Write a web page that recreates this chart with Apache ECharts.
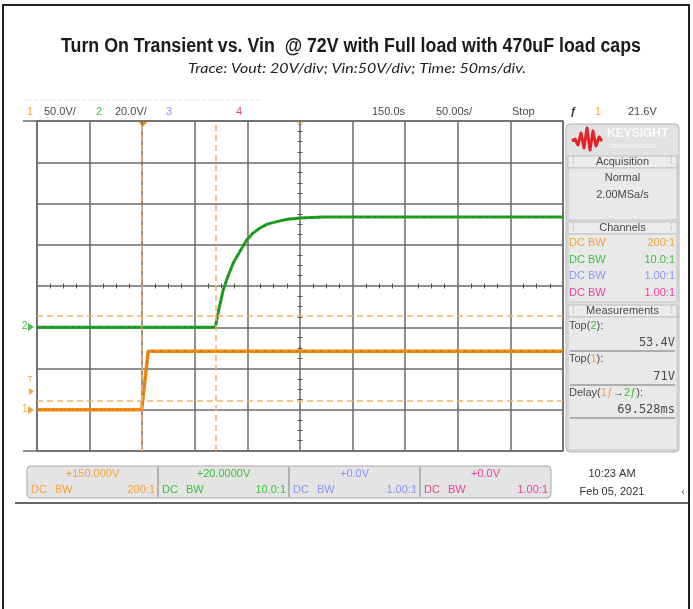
<!DOCTYPE html>
<html>
<head>
<meta charset="utf-8">
<script src="https://cdn.jsdelivr.net/npm/echarts@6/dist/echarts.min.js"></script>
<style>
	html, body { margin: 0; padding: 0; background: #fff; }
	#chart { width: 693px; height: 609px; }
</style>
</head>
<body>
<div id="chart"></div>
<script>
	// time in ms (trigger at 0), volts per channel
	const vinTime = [-100, -0.5, 5.7, 400];
	const vinVolts = [0, 0, 71, 71];
	const voutTime = [-100, 69.5, 73, 77, 81, 86.6, 92, 99.3, 105, 112, 119, 128, 138, 150, 172, 400];
	const voutVolts = [0, 0, 9, 18, 24, 31.2, 36, 42.3, 45.5, 48.1, 50, 51.2, 52.4, 53, 53.5, 53.4];
	const cursorTimes = [0, 69.528];
	const vinThreshold = 11.5;
	const voutThreshold = 5.6;

	const chColors = ["#f5a33a", "#3fbf3f", "#8a96f0", "#ee3f9a"];
	const chScale = ["50.0V/", "20.0V/"];
	const chOffset = ["+150.000V", "+20.0000V", "+0.0V", "+0.0V"];
	const chProbe = ["200:1", "10.0:1", "1.00:1", "1.00:1"];
	const measValues = ["53.4V", "71V", "69.528ms"];

	const titleText = "Turn On Transient vs. Vin  @ 72V with Full load with 470uF load caps";
	const subText = "Trace: Vout: 20V/div; Vin:50V/div; Time: 50ms/div.";

	const vinData = vinTime.map((t, i) => [t, vinVolts[i]]);
	const voutData = voutTime.map((t, i) => [t, voutVolts[i]]);

	const gridColor = "#6a6a6a";
	const txt = "#4a4a4a";
	const sans = "'Liberation Sans', Arial, sans-serif";
	const mono = "'DejaVu Sans Mono', monospace";

	// squeeze a string to a target width (the original uses a narrow font)
	const measure = document.createElement("canvas").getContext("2d");
	const fitScale = (s, font, width) => {
		measure.font = font;
		return width / measure.measureText(s).width;
	};

	const text = (x, y, s, opts = {}) => ({
		type: "text",
		silent: true,
		style: Object.assign({
			x, y, text: s,
			fill: txt,
			font: `11px ${sans}`,
			textAlign: "left",
			textVerticalAlign: "middle"
		}, opts)
	});
	const rect = (x, y, w, h, fill, stroke, r = 0) => ({
		type: "rect",
		silent: true,
		shape: { x, y, width: w, height: h, r },
		style: { fill, stroke, lineWidth: 1 }
	});
	const line = (x1, y1, x2, y2, stroke, lineWidth = 1, lineDash = null) => ({
		type: "line",
		silent: true,
		shape: { x1, y1, x2, y2 },
		style: { stroke, lineWidth, lineDash }
	});

	const graphics = [];
	// outer frame
	graphics.push({
		type: "rect", silent: true,
		shape: { x: 3, y: 5, width: 686, height: 612 },
		style: { fill: null, stroke: "#222", lineWidth: 2 }
	});
	graphics.push(line(15, 503, 689, 503, "#333", 1.5));

	// title + subtitle
	const titleFont = `bold 20px ${sans}`;
	graphics.push({
		type: "text", silent: true,
		x: 351, y: 46,
		scaleX: fitScale(titleText, titleFont, 580),
		style: { text: titleText, font: titleFont, fill: "#1a1a1a", textAlign: "center", textVerticalAlign: "middle" }
	});
	const subFont = "italic 14px Lato, 'Open Sans', sans-serif";
	graphics.push({
		type: "text", silent: true,
		x: 357, y: 68,
		scaleX: fitScale(subText, subFont, 338),
		style: { text: subText, font: subFont, fill: "#222", textAlign: "center", textVerticalAlign: "middle" }
	});

	// header row
	graphics.push(line(25, 100, 262, 100, "#c8c8c8", 1, [1, 2]));
	graphics.push(text(27, 112, "1", { fill: chColors[0] }));
	graphics.push(text(44, 112, chScale[0]));
	graphics.push(text(96, 112, "2", { fill: chColors[1] }));
	graphics.push(text(115, 112, chScale[1]));
	graphics.push(text(166, 112, "3", { fill: chColors[2] }));
	graphics.push(text(236, 112, "4", { fill: chColors[3] }));
	graphics.push(text(372, 112, "150.0s"));
	graphics.push(text(436, 112, "50.00s/"));
	graphics.push(text(512, 112, "Stop"));
	graphics.push(text(570, 112, "ƒ", { font: `italic bold 11px ${sans}`, fill: "#333" }));
	graphics.push(text(595, 112, "1", { fill: chColors[0] }));
	graphics.push(text(628, 112, "21.6V"));

	// grid edge stubs on the left
	graphics.push(line(23, 121, 37, 121, gridColor, 1.5));
	graphics.push(line(23, 451, 37, 451, gridColor, 1.5));

	// markers on the screen
	graphics.push({
		type: "polygon", silent: true,
		shape: { points: [[138, 121], [148, 121], [143, 127]] },
		style: { fill: "#f08c1a" }
	});
	graphics.push({
		type: "polygon", silent: true,
		shape: { points: [[296, 121], [304, 121], [300, 126]] },
		style: { fill: "#fff", stroke: "#f0a040", lineWidth: 1 }
	});
	graphics.push(text(22, 326, "2", { fill: chColors[1], font: `10px ${sans}` }));
	graphics.push({
		type: "polygon", silent: true,
		shape: { points: [[28, 323], [34, 327], [28, 331]] },
		style: { fill: chColors[1] }
	});
	graphics.push(text(22, 409, "1", { fill: chColors[0], font: `10px ${sans}` }));
	graphics.push({
		type: "polygon", silent: true,
		shape: { points: [[28, 406], [34, 410], [28, 414]] },
		style: { fill: chColors[0] }
	});
	graphics.push(text(30, 380, "T", { fill: chColors[0], font: `9px ${sans}`, textAlign: "center" }));
	graphics.push({
		type: "polygon", silent: true,
		shape: { points: [[29, 388], [34, 391.5], [29, 395]] },
		style: { fill: chColors[0] }
	});

	// right side panel
	const px = 566, pw = 113;
	graphics.push(rect(px, 124, pw, 328, "#e2e2e2", "#b4b4b4", 4));
	graphics.push({
		type: "polyline", silent: true,
		shape: { points: [[572, 141], [575, 139], [578, 145], [581, 133], [584, 148], [587, 128], [590, 150], [593, 131], [596, 146], [599, 137], [602, 141]] },
		style: { stroke: "#e3222b", lineWidth: 3, fill: null, lineJoin: "round" }
	});
	graphics.push(text(607, 134, "KEYSIGHT", { fill: "#fbfbfb", font: `bold 12px ${sans}` }));
	graphics.push(text(609, 146, "TECHNOLOGIES", { fill: "#fbfbfb", font: `6px ${sans}` }));

	const sectionHead = (y, label) => {
		graphics.push(rect(px + 2, y, pw - 4, 12, "#ececec", "#bdbdbd"));
		graphics.push(text(px + 6, y + 6, "⁞", { fill: "#aaa", font: `9px ${sans}` }));
		graphics.push(text(px + pw - 9, y + 6, "⁞", { fill: "#aaa", font: `9px ${sans}` }));
		graphics.push(text(px + pw / 2, y + 6, label, { textAlign: "center", font: `11px ${sans}` }));
	};
	sectionHead(156, "Acquisition");
	graphics.push(rect(px + 2, 168, pw - 4, 52, "#e9e9e9", "#c4c4c4"));
	graphics.push(text(px + pw / 2, 178, "Normal", { textAlign: "center" }));
	graphics.push(text(px + pw / 2, 195, "2.00MSa/s", { textAlign: "center" }));

	sectionHead(222, "Channels");
	graphics.push(rect(px + 2, 234, pw - 4, 68, "#e9e9e9", "#c4c4c4"));
	chProbe.forEach((p, i) => {
		const y = 243 + i * 16.7;
		graphics.push(text(px + 3, y, "DC BW", { fill: chColors[i] }));
		graphics.push(text(px + pw - 4, y, p, { fill: chColors[i], textAlign: "right" }));
	});

	sectionHead(305, "Measurements");
	graphics.push(rect(px + 2, 317, pw - 4, 133, "#e9e9e9", "#c4c4c4"));
	graphics.push(text(px + 3, 326, "{a|Top(}{g|2}{a|):}", {
		rich: { a: { fill: txt, font: `11px ${sans}` }, g: { fill: chColors[1], font: `11px ${sans}` } }
	}));
	graphics.push(text(px + pw - 4, 343, measValues[0], { textAlign: "right", font: `12px ${mono}` }));
	graphics.push(line(px + 4, 351, px + pw - 4, 351, "#9a9a9a", 1.5));
	graphics.push(text(px + 3, 359, "{a|Top(}{o|1}{a|):}", {
		rich: { a: { fill: txt, font: `11px ${sans}` }, o: { fill: chColors[0], font: `11px ${sans}` } }
	}));
	graphics.push(text(px + pw - 4, 377, measValues[1], { textAlign: "right", font: `12px ${mono}` }));
	graphics.push(line(px + 4, 385, px + pw - 4, 385, "#9a9a9a", 1.5));
	graphics.push(text(px + 3, 393, "{a|Delay(}{o|1ƒ}{a|→}{g|2ƒ}{a|):}", {
		rich: {
			a: { fill: txt, font: `11px ${sans}` },
			o: { fill: chColors[0], font: `11px ${sans}` },
			g: { fill: chColors[1], font: `11px ${sans}` }
		}
	}));
	graphics.push(text(px + pw - 4, 410, measValues[2], { textAlign: "right", font: `12px ${mono}` }));
	graphics.push(line(px + 4, 418, px + pw - 4, 418, "#9a9a9a", 1.5));

	// bottom channel bar
	graphics.push(rect(27, 466, 524, 32, "#e4e4e4", "#a8a8a8", 4));
	const cellW = 131;
	chOffset.forEach((o, i) => {
		const x0 = 27 + i * cellW;
		if (i > 0) graphics.push(line(x0, 467, x0, 497, "#a0a0a0", 1.5));
		graphics.push(text(x0 + cellW / 2, 474, o, { fill: chColors[i], textAlign: "center" }));
		graphics.push(text(x0 + 4, 490, "DC", { fill: chColors[i] }));
		graphics.push(text(x0 + 28, 490, "BW", { fill: chColors[i] }));
		graphics.push(text(x0 + cellW - 3, 490, chProbe[i], { fill: chColors[i], textAlign: "right" }));
	});
	graphics.push(text(612, 474, "10:23 AM", { textAlign: "center", fill: "#333" }));
	graphics.push(text(612, 492, "Feb 05, 2021", { textAlign: "center", fill: "#333" }));
	graphics.push(text(683, 492, "‹", { fill: "#555", textAlign: "center" }));

	const chart = echarts.init(document.getElementById("chart"), null, { renderer: "canvas" });

	const tickAxis = (extra) => Object.assign({
		gridIndex: 0,
		type: "value",
		axisLine: { show: false },
		axisTick: { show: false },
		axisLabel: { show: false },
		splitLine: { show: false },
		minorTick: { show: true, splitNumber: 4, length: 2.5, lineStyle: { color: "#555", width: 1 } }
	}, extra);

	const option = {
		animation: false,
		backgroundColor: "#fff",
		grid: {
			left: 37,
			top: 121,
			width: 526,
			height: 330,
			show: true,
			backgroundColor: "#fff",
			borderColor: gridColor,
			borderWidth: 1.5
		},
		xAxis: [
			{
				type: "value",
				min: -100,
				max: 400,
				interval: 50,
				axisLine: { show: false },
				axisTick: { show: false },
				axisLabel: { show: false },
				splitLine: { show: true, lineStyle: { color: gridColor, width: 1.5 } }
			},
			tickAxis({ min: -100, max: 400, interval: 50, position: "bottom", offset: -165 }),
			tickAxis({ min: -100, max: 400, interval: 50, position: "top", offset: -165 })
		],
		yAxis: [
			{
				type: "value",
				min: -50,
				max: 350,
				interval: 50,
				axisLine: { show: false },
				axisTick: { show: false },
				axisLabel: { show: false },
				splitLine: { show: true, lineStyle: { color: gridColor, width: 1.5 } }
			},
			{
				type: "value",
				min: -60,
				max: 100,
				interval: 20,
				position: "right",
				axisLine: { show: false },
				axisTick: { show: false },
				axisLabel: { show: false },
				splitLine: { show: false }
			},
			tickAxis({ min: -4, max: 4, interval: 1, position: "left", offset: -263 }),
			tickAxis({ min: -4, max: 4, interval: 1, position: "right", offset: -263 })
		],
		series: [
			{
				name: "Vin",
				type: "line",
				xAxisIndex: 0,
				yAxisIndex: 0,
				data: vinData,
				showSymbol: false,
				lineStyle: { color: "#ec8a12", width: 3.5 },
				z: 3,
				markLine: {
					silent: true,
					symbol: "none",
					label: { show: false },
					lineStyle: { color: "#f7b26a", type: [6, 4], width: 1.5 },
					data: [
						...cursorTimes.map(t => ({ xAxis: t })),
						{ yAxis: vinThreshold }
					]
				}
			},
			{
				name: "Vout",
				type: "line",
				xAxisIndex: 0,
				yAxisIndex: 1,
				data: voutData,
				showSymbol: false,
				lineStyle: { color: "#1f9f1f", width: 3 },
				z: 4,
				markLine: {
					silent: true,
					symbol: "none",
					label: { show: false },
					lineStyle: { color: "#f7b26a", type: [6, 4], width: 1.5 },
					data: [{ yAxis: voutThreshold }]
				}
			},
			{
				name: "Vin specks",
				type: "line",
				yAxisIndex: 0,
				data: vinData,
				showSymbol: false,
				lineStyle: { color: "#3a2a10", width: 1.2, type: [1, 7], opacity: 0.55 },
				z: 5
			},
			{
				name: "Vout specks",
				type: "line",
				yAxisIndex: 1,
				data: voutData,
				showSymbol: false,
				lineStyle: { color: "#0b3a0b", width: 1.2, type: [1, 6], opacity: 0.6 },
				z: 5
			}
		],
		graphic: graphics
	};

	chart.setOption(option);

	window.addEventListener("resize", () => chart.resize());
</script>
</body>
</html>
